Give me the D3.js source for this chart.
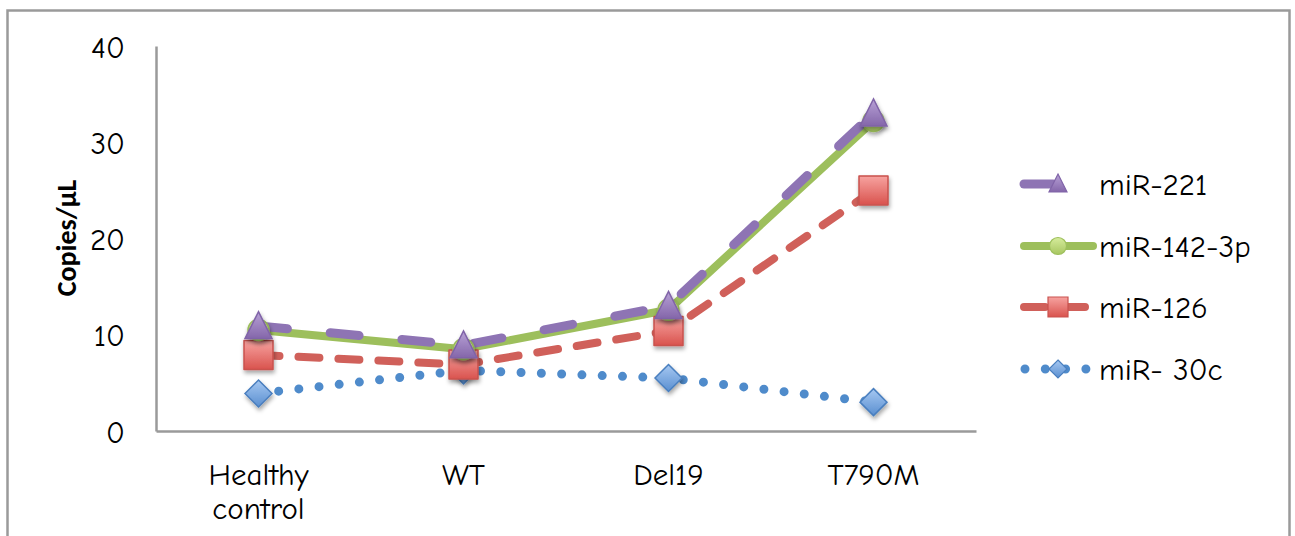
<!DOCTYPE html>
<html>
<head>
<meta charset="utf-8">
<script src="https://cdn.jsdelivr.net/npm/d3@7/dist/d3.min.js"></script>
<style>
  html, body { margin: 0; padding: 0; background: #fff; }
  svg { display: block; }
  .lbl { font-family: "Comic Sans MS", "Comic Neue", "DejaVu Sans", sans-serif; fill: #000; }
</style>
</head>
<body>
<svg id="chart" width="1295" height="536"></svg>
<script>
// Groups along the x axis
const categories = ["Healthy control", "WT", "Del19", "T790M"];

// Copies/µL per miRNA
const mir221   = [10.9, 8.9, 13.0, 33.0];
const mir142   = [10.5, 8.5, 12.6, 32.2];
const mir126   = [7.9, 6.9, 10.4, 25.0];
const mir30c   = [3.9, 6.3, 5.5, 3.0];

const seriesNames = ["miR-221", "miR-142-3p", "miR-126", "miR- 30c"];
const yTicks = [0, 10, 20, 30, 40];

const FS = 31;

const svg = d3.select("#chart");

// outer frame
svg.append("rect")
  .attr("x", 7.5).attr("y", 10.5)
  .attr("width", 1282).attr("height", 560)
  .attr("fill", "#fff")
  .attr("stroke", "#9a9a9a").attr("stroke-width", 2.5);

const defs = svg.append("defs");
const shadow = defs.append("filter").attr("id", "shadow")
  .attr("x", "-50%").attr("y", "-50%").attr("width", "200%").attr("height", "200%");
shadow.append("feDropShadow")
  .attr("dx", 1).attr("dy", 3).attr("stdDeviation", 2)
  .attr("flood-color", "#000").attr("flood-opacity", 0.35);

function grad(id, top, bottom) {
  const g = defs.append("linearGradient").attr("id", id)
    .attr("x1", 0).attr("y1", 0).attr("x2", 0).attr("y2", 1);
  g.append("stop").attr("offset", "0%").attr("stop-color", top);
  g.append("stop").attr("offset", "100%").attr("stop-color", bottom);
}
grad("gPurple", "#b8a2d6", "#8466aa");
grad("gGreen", "#d6ec9c", "#a7c660");
grad("gRed", "#f7a3a0", "#d9534e");
grad("gBlue", "#a6c8f2", "#5a8fd0");

const x = d3.scaleBand().domain(categories).range([156, 976]).padding(0);
const y = d3.scaleLinear().domain([0, 40]).range([431, 46]);
const cx = c => x(c) + x.bandwidth() / 2;

// y axis
const yAxis = svg.append("g")
  .attr("transform", "translate(156,0)")
  .call(d3.axisLeft(y).tickValues(yTicks).tickSize(0).tickSizeOuter(0).tickPadding(31));
yAxis.select(".domain").attr("stroke", "#9a9a9a").attr("stroke-width", 2.5);
yAxis.selectAll("text").attr("class", "lbl")
  .attr("font-size", FS).attr("fill", "#000").attr("dy", "0.36em");

// x axis
const xAxis = svg.append("g")
  .attr("transform", "translate(0,431)")
  .call(d3.axisBottom(x).tickSize(0).tickSizeOuter(0).tickPadding(0));
xAxis.select(".domain").attr("stroke", "#9a9a9a").attr("stroke-width", 2.5);
xAxis.selectAll("text").each(function(d) {
  const t = d3.select(this).attr("class", "lbl").attr("font-size", FS)
    .attr("fill", "#000").attr("y", 0).attr("dy", null).text(null);
  d.split(" ").forEach((w, i) => {
    t.append("tspan").attr("x", 0).attr("y", 54 + i * 34).text(w);
  });
});

// y axis title
svg.append("text")
  .attr("transform", "translate(66,238) rotate(-90)")
  .attr("text-anchor", "middle").attr("dominant-baseline", "central")
  .attr("font-family", "Calibri, 'Liberation Sans', Arial, sans-serif")
  .attr("font-weight", "bold").attr("font-size", 28)
  .text("Copies/\u03bcL");

const series = [
  { name: seriesNames[3], values: mir30c, color: "#4f8bcb", width: 9, dash: "0,20.3", marker: "diamond", fill: "url(#gBlue)", edge: "#4a7fbf" },
  { name: seriesNames[2], values: mir126, color: "#d0605a", width: 8, dash: "21,19", marker: "square", fill: "url(#gRed)", edge: "#c9524e" },
  { name: seriesNames[1], values: mir142, color: "#9dbf5c", width: 8, dash: null, marker: "circle", fill: "url(#gGreen)", edge: "#9dbf5c" },
  { name: seriesNames[0], values: mir221, color: "#8e74b4", width: 9, dash: "29,43", marker: "triangle", fill: "url(#gPurple)", edge: "#8064a8" }
];

const line = d3.line().x((d, i) => cx(categories[i])).y(d => y(d));

const plot = svg.append("g");
series.forEach(s => {
  plot.append("path").datum(s.values)
    .attr("d", line)
    .attr("fill", "none")
    .attr("stroke", s.color).attr("stroke-width", s.width)
    .attr("stroke-linecap", "round").attr("stroke-linejoin", "round")
    .attr("stroke-dasharray", s.dash);
});

function markerPath(type, size) {
  const h = size / 2;
  if (type === "diamond") return `M0,${-h}L${h},0L0,${h}L${-h},0Z`;
  if (type === "square") return `M${-h},${-h}H${h}V${h}H${-h}Z`;
  if (type === "triangle") return `M0,${-h - 1}L${h},${h - 1}L${-h},${h - 1}Z`;
  return d3.arc()({ innerRadius: 0, outerRadius: h, startAngle: 0, endAngle: 2 * Math.PI });
}
const markerSize = { diamond: 27, square: 29, triangle: 27, circle: 21 };

series.forEach(s => {
  plot.selectAll(null).data(s.values).join("path")
    .attr("transform", (d, i) => `translate(${cx(categories[i])},${y(d)})`)
    .attr("d", markerPath(s.marker, markerSize[s.marker]))
    .attr("fill", s.fill).attr("stroke", s.edge).attr("stroke-width", 1.5)
    .attr("stroke-linejoin", s.marker === "square" ? "round" : "miter")
    .attr("filter", "url(#shadow)");
});

// legend
const legendY = [184, 246, 307, 369];
const legendSeries = [series[3], series[2], series[1], series[0]];
const legendSize = { diamond: 18, square: 20, triangle: 18, circle: 17 };
const legendLine = {
  "miR-221": [1024, 1095],
  "miR-142-3p": [1024, 1093],
  "miR-126": [1024, 1087],
  "miR- 30c": [1025, 1090]
};
const lg = svg.append("g");
legendSeries.forEach((s, i) => {
  const ly = legendY[i];
  const [x0, x1] = legendLine[s.name];
  lg.append("line")
    .attr("x1", x0).attr("x2", x1).attr("y1", ly).attr("y2", ly)
    .attr("stroke", s.color).attr("stroke-width", s.width)
    .attr("stroke-linecap", "round").attr("stroke-dasharray", s.dash);
  lg.append("path")
    .attr("transform", `translate(1058,${ly})`)
    .attr("d", markerPath(s.marker, legendSize[s.marker]))
    .attr("fill", s.fill).attr("stroke", s.edge).attr("stroke-width", 1.2);
  lg.append("text").attr("class", "lbl")
    .attr("x", 1099).attr("y", ly).attr("dy", "0.36em")
    .attr("font-size", FS)
    .text(s.name);
});
</script>
</body>
</html>
